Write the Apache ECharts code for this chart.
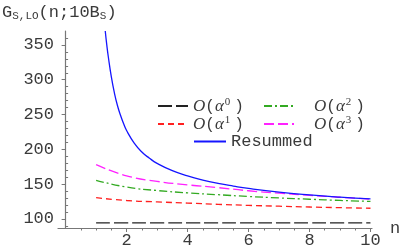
<!DOCTYPE html>
<html><head><meta charset="utf-8">
<script src="https://cdn.jsdelivr.net/npm/echarts@6/dist/echarts.min.js"></script>
<style>html,body{margin:0;padding:0;background:#fff}#c{width:404px;height:249px}</style>
</head><body><div id="c"></div>
<script>
// ---- data ----
const nValues = [1, 2, 3, 4, 5, 6, 7, 8, 9, 10];
const orderAlpha0 = [94.5, 94.5, 94.5, 94.5, 94.5, 94.5, 94.5, 94.5, 94.5, 94.5];
const orderAlpha1 = [130.5, 126.5, 124.5, 122.8, 121, 119.5, 118.3, 117.2, 116.2, 115.4];
const orderAlpha2 = [155.5, 145.8, 140.8, 137.5, 134.8, 132.3, 130.2, 128.3, 126.6, 125.2];
const orderAlpha3 = [178, 162, 154, 149, 145, 140.5, 137, 134, 131.2, 128.5];
const resummedN = [1.3, 1.35, 1.4, 1.5, 1.6, 1.7, 1.8, 1.9, 2.0, 2.25, 2.5, 2.75, 3.0, 3.5, 4.0, 4.5, 5.0, 5.5, 6.0, 7.0, 8.0, 9.0, 10];
const resummedV = [370, 350, 333, 304, 281, 263, 249, 237, 227, 209, 196.2, 187.2, 179.9, 169.4, 161.9, 155.9, 151.1, 147.2, 143.8, 138.5, 134.5, 131.3, 128.7];
const xTickLabels = [2, 4, 6, 8, 10];
const xMinorTicks = [0.5, 1, 1.5, 2.5, 3, 3.5, 4.5, 5, 5.5, 6.5, 7, 7.5, 8.5, 9, 9.5];
const yTickLabels = [100, 150, 200, 250, 300, 350];
const yMinorTicks = [90, 110, 120, 130, 140, 160, 170, 180, 190, 210, 220, 230, 240, 260, 270, 280, 290, 310, 320, 330, 340, 360];
const xRange = [-0.25, 10.05];
const yRange = [87, 370];

// ---- build ----
const MONO = 'Liberation Mono';
const TXT = '#3a3a3a';
const AX = '#777';
const pair = (xs, ys) => xs.map((x, i) => [x, ys[i]]);

const legendLabels = {
  a0: '{i|O}{p|(}{i|α}{sup|0}{p|)}',
  a1: '{i|O}{p|(}{i|α}{sup|1}{p|)}',
  a2: '{i|O}{p|(}{i|α}{sup|2}{p|)}',
  a3: '{i|O}{p|(}{i|α}{sup|3}{p|)}',
  Resummed: '{m|Resummed}'
};
const rich = {
  i: { fontFamily: 'Liberation Serif', fontStyle: 'italic', fontSize: 17, color: TXT, verticalAlign: 'bottom', lineHeight: 18 },
  p: { fontFamily: MONO, fontSize: 16, color: TXT, verticalAlign: 'bottom', lineHeight: 18 },
  sup: { fontFamily: 'Liberation Serif', fontSize: 11, color: TXT, verticalAlign: 'top', lineHeight: 12, padding: [0, 4, 0, 1] },
  m: { fontFamily: MONO, fontSize: 17, color: TXT, lineHeight: 18 }
};
function mkLegend(name, left, top, w, padLeft) {
  return {
    data: [name], left: left, top: top, padding: 0, itemWidth: w, itemHeight: 18,
    itemStyle: { opacity: 0 },
    formatter: n => legendLabels[n],
    textStyle: { rich: rich, padding: [0, 0, 0, padLeft] }
  };
}
function mkLine(name, data, color, type, width) {
  return {
    name: name, type: 'line', data: data, xAxisIndex: 0, yAxisIndex: 0,
    showSymbol: false, symbol: 'none', smooth: 0.5,
    lineStyle: { color: color, type: type, width: width }, itemStyle: { color: color },
    emphasis: { disabled: true }
  };
}

const chart = echarts.init(document.getElementById('c'), null, { renderer: 'canvas' });
chart.setOption({
  animation: false,
  backgroundColor: '#fff',
  title: {
    text: '{g|G}{s|S,LO}{t|(n;10B}{s|S}{t|)}',
    left: 2, top: 4, padding: 0,
    textStyle: { fontWeight: 'normal', rich: {
      g: { fontFamily: MONO, fontSize: 17, fontWeight: 'normal', color: TXT, verticalAlign: 'top', lineHeight: 18 },
      t: { fontFamily: MONO, fontSize: 17, fontWeight: 'normal', color: TXT, verticalAlign: 'top', lineHeight: 18 },
      s: { fontFamily: MONO, fontSize: 11, fontWeight: 'normal', color: TXT, verticalAlign: 'bottom', lineHeight: 12, padding: [8, 0, 0, 0] }
    } }
  },
  grid: { left: 58, right: 32, top: 31, bottom: 21, containLabel: false },
  legend: [
    mkLegend('a0', 157, 97, 30, 0),
    mkLegend('a1', 157, 115, 30, 0),
    mkLegend('a2', 263, 97, 30, 15),
    mkLegend('a3', 263, 115, 30, 15),
    mkLegend('Resummed', 193, 133, 32, 0)
  ],
  xAxis: [
    {
      type: 'value', min: xRange[0], max: xRange[1], position: 'bottom',
      name: 'n', nameLocation: 'end', nameGap: 18,
      nameTextStyle: { fontFamily: MONO, fontSize: 17, color: TXT, verticalAlign: 'middle' },
      axisLine: { show: true, onZero: false, lineStyle: { color: AX, width: 1.2 } },
      axisTick: { show: true, customValues: xTickLabels, length: 4, lineStyle: { color: AX } },
      axisLabel: { show: true, customValues: xTickLabels, fontFamily: MONO, fontSize: 17, color: TXT, margin: 4 },
      splitLine: { show: false }
    },
    {
      type: 'value', min: xRange[0], max: xRange[1], position: 'bottom',
      axisLine: { show: false, onZero: false },
      axisTick: { show: true, customValues: xMinorTicks, length: 2.5, lineStyle: { color: AX } },
      axisLabel: { show: false }, splitLine: { show: false }
    }
  ],
  yAxis: [
    {
      type: 'value', min: yRange[0], max: yRange[1],
      axisLine: { show: true, onZero: true, onZeroAxisIndex: 0, lineStyle: { color: AX, width: 1.2 } },
      axisTick: { show: true, customValues: yTickLabels, length: 4, lineStyle: { color: AX } },
      axisLabel: { show: true, customValues: yTickLabels, fontFamily: MONO, fontSize: 17, color: TXT, margin: 4 },
      splitLine: { show: false }
    },
    {
      type: 'value', min: yRange[0], max: yRange[1],
      axisLine: { show: false, onZero: true, onZeroAxisIndex: 0 },
      axisTick: { show: true, customValues: yMinorTicks, length: 2.5, lineStyle: { color: AX } },
      axisLabel: { show: false }, splitLine: { show: false }
    }
  ],
  series: [
    mkLine('a0', pair(nValues, orderAlpha0), '#222222', [14, 4], 1.3),
    mkLine('a1', pair(nValues, orderAlpha1), '#ff2020', [6, 4], 1.3),
    mkLine('a2', pair(nValues, orderAlpha2), '#33aa22', [8, 3, 2, 3], 1.3),
    mkLine('a3', pair(nValues, orderAlpha3), '#ff22ff', [10, 4], 1.3),
    mkLine('Resummed', pair(resummedN, resummedV), '#1515ff', 'solid', 1.3)
  ]
});
</script></body></html>
